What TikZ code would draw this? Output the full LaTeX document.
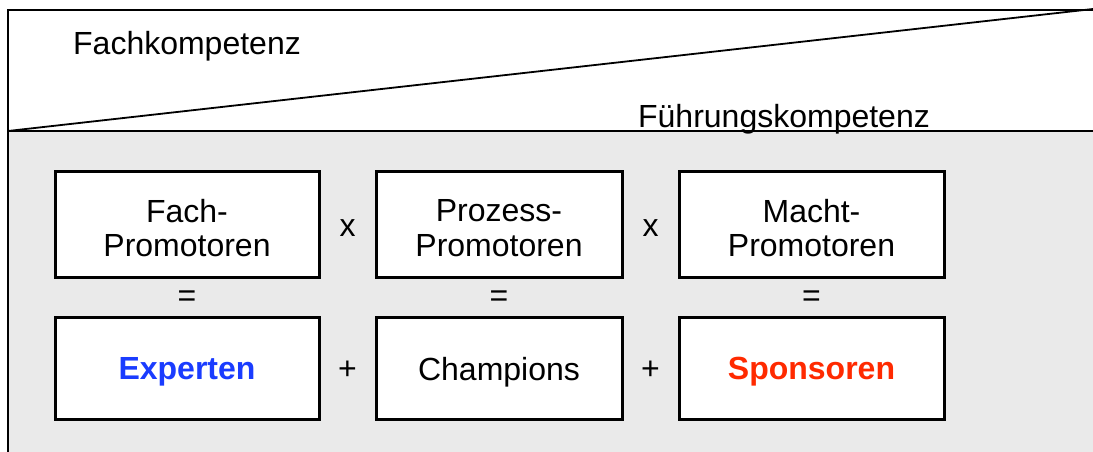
\documentclass[tikz,border=0pt]{standalone}
\usepackage{fontspec}
\setmainfont{Liberation Sans}
\definecolor{panelgrey}{HTML}{EAEAEA}
\definecolor{expblue}{HTML}{1A3CFF}
\definecolor{sponred}{HTML}{FF2A00}
\tikzset{
  promobox/.style={draw=black, line width=3pt, fill=white, inner sep=0pt},
  boxtext/.style={align=center, font=\fontsize{32}{34.5}\selectfont, inner sep=0pt},
  opsign/.style={font=\fontsize{32}{34}\selectfont, inner sep=0pt},
  heading/.style={font=\fontsize{32}{34}\selectfont, anchor=base, inner sep=0pt},
  frameline/.style={line width=2pt, line cap=rect},
}
\begin{document}
\begin{tikzpicture}[x=1pt, y=-1pt]
  \useasboundingbox (0,0) rectangle (1093,452);
  % lower panel
  \fill[panelgrey] (8,131) rectangle (1093,452);
  % frame: top, left, separator and diagonal
  \draw[frameline] (8,452) -- (8,10) -- (1093,10);
  \draw[frameline] (8,131) -- (1093,131);
  \draw[line width=1.8pt] (8,131) -- (1093,9);
  % headings of the two triangles
  \node[heading] (fk) at (187,55) {Fachkompetenz};
  \node[heading] (fuk) at (784,127) {Führungskompetenz};
  % upper row: promoter roles
  \node[promobox, minimum width=264pt, minimum height=106pt] (fach) at (187,224) {};
  \node[promobox, minimum width=246pt, minimum height=106pt] (proz) at (499,224) {};
  \node[promobox, minimum width=265pt, minimum height=106pt] (macht) at (811.5,224) {};
  \node[boxtext] (fachT) at (187,228) {Fach-\\Promotoren};
  \node[boxtext] (prozT) at (499,228) {Prozess-\\Promotoren};
  \node[boxtext] (machtT) at (811.5,228) {Macht-\\Promotoren};
  % lower row: matching roles
  \node[promobox, minimum width=264pt, minimum height=102pt] (exp) at (187,368) {};
  \node[promobox, minimum width=246pt, minimum height=102pt] (champ) at (499,368) {};
  \node[promobox, minimum width=265pt, minimum height=102pt] (spon) at (811.5,368) {};
  \node[boxtext] (expT) at (187,372) {\textcolor{expblue}{\textbf{Experten}}};
  \node[boxtext] (champT) at (499,372) {Champions};
  \node[boxtext] (sponT) at (811.5,372) {\textcolor{sponred}{\textbf{Sponsoren}}};
  % operators between the boxes
  \node[opsign] (x1) at (347.5,228) {x};
  \node[opsign] (x2) at (650.5,228) {x};
  \node[opsign] (p1) at (347.5,370) {+};
  \node[opsign] (p2) at (650.5,370) {+};
  \node[opsign] (e1) at (187,299) {=};
  \node[opsign] (e2) at (499,299) {=};
  \node[opsign] (e3) at (811.5,299) {=};
\end{tikzpicture}
\end{document}
